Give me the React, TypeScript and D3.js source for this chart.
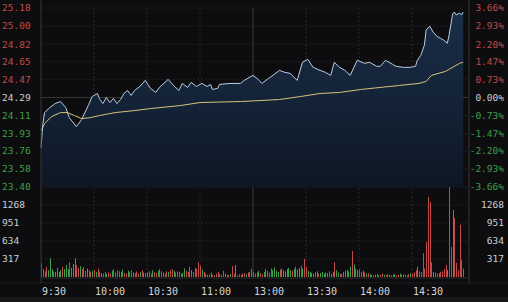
import React from "react";
import * as d3 from "d3";

// ---- data ----
const priceTicks = [25.18, 25.0, 24.82, 24.65, 24.47, 24.29, 24.11, 23.93, 23.76, 23.58, 23.4];
const pctLabels = ["3.66%", "2.93%", "2.20%", "1.47%", "0.73%", "0.00%", "-0.73%", "-1.47%", "-2.20%", "-2.93%", "-3.66%"];
const volTicks = [1268, 951, 634, 317];
const timeLabels = ["9:30", "10:00", "10:30", "11:00", "13:00", "13:30", "14:00", "14:30"];
const preClose = 24.29;

const priceMinutes = [0, 1, 2, 5, 8, 11, 14, 16, 20, 23, 27, 29, 32, 33, 35, 37, 39, 41, 43, 45, 47, 49, 51, 53, 56, 59, 62, 65, 67, 72, 75, 78, 80, 83, 85, 88, 91, 94, 96, 97, 100, 101, 107, 113, 115, 120, 123, 125, 128, 132, 135, 138, 141, 145, 148, 151, 154, 158, 161, 164, 166, 169, 172, 175, 179, 183, 186, 190, 192, 195, 199, 201, 205, 209, 212, 213, 215, 217, 218, 220, 222, 224, 226, 228, 230, 231, 233, 234, 235, 237, 238, 239];
const priceValues = [23.79, 24.02, 24.14, 24.19, 24.23, 24.25, 24.19, 24.09, 24.0, 24.07, 24.22, 24.3, 24.33, 24.28, 24.23, 24.29, 24.24, 24.28, 24.23, 24.27, 24.33, 24.36, 24.31, 24.36, 24.4, 24.46, 24.38, 24.34, 24.39, 24.47, 24.41, 24.36, 24.43, 24.39, 24.44, 24.4, 24.43, 24.4, 24.42, 24.37, 24.38, 24.42, 24.43, 24.43, 24.46, 24.51, 24.47, 24.43, 24.47, 24.52, 24.56, 24.54, 24.53, 24.46, 24.64, 24.67, 24.59, 24.56, 24.54, 24.51, 24.64, 24.59, 24.56, 24.51, 24.66, 24.63, 24.64, 24.6, 24.6, 24.66, 24.62, 24.6, 24.59, 24.59, 24.6, 24.66, 24.71, 24.81, 24.96, 25.0, 24.94, 24.9, 24.88, 24.86, 24.83, 24.91, 25.12, 25.14, 25.11, 25.13, 25.11, 25.14];

const avgMinutes = [0, 2, 6, 11, 15, 19, 23, 28, 33, 42, 53, 62, 79, 90, 113, 135, 147, 158, 169, 181, 192, 203, 214, 218, 221, 229, 234, 237, 239];
const avgValues = [23.96, 24.03, 24.1, 24.14, 24.14, 24.11, 24.08, 24.09, 24.11, 24.14, 24.16, 24.18, 24.21, 24.24, 24.25, 24.27, 24.3, 24.33, 24.34, 24.37, 24.39, 24.41, 24.43, 24.45, 24.51, 24.55, 24.6, 24.63, 24.64];

const volumes = [
  250, 140, 100, 180, 120, 335, 140, 100, 90, 160, 90, 120, 180, 140, 210, 140, 260, 160, 230, 330, 210, 160, 190, 140, 175, 105, 150, 120, 90, 110,
  120, 90, 150, 100, 70, 60, 90, 50, 80, 60, 110, 140, 80, 120, 100, 90, 130, 70, 60, 110, 90, 120, 80, 70, 100, 60, 90, 120, 80, 70,
  80, 100, 60, 120, 90, 70, 110, 140, 100, 80, 60, 100, 90, 120, 140, 110, 80, 100, 90, 60, 70, 150, 110, 90, 180, 120, 90, 160, 140, 260,
  200, 130, 90, 60, 40, 50, 80, 40, 30, 60, 90, 50, 40, 110, 60, 40, 30, 50, 190, 60, 210, 30, 50, 40, 60, 70, 50, 80, 90, 140,
  90, 60, 80, 110, 70, 50, 90, 140, 110, 80, 150, 120, 170, 110, 90, 130, 150, 120, 100, 140, 160, 120, 110, 140, 180, 130, 160, 200, 150, 320,
  180, 110, 90, 70, 60, 80, 100, 60, 70, 90, 60, 80, 70, 100, 60, 90, 260, 120, 80, 60, 50, 90, 110, 130, 100, 180, 460, 220, 150, 120,
  130, 90, 110, 80, 60, 70, 50, 40, 30, 40, 50, 30, 40, 60, 40, 30, 50, 40, 30, 40, 50, 30, 40, 60, 40, 50, 40, 30, 50, 60,
  60, 80, 120, 180, 100, 90, 420, 150, 620, 1410, 1320, 260, 90, 80, 60, 70, 90, 100, 140, 210, 120, 1585, 530, 1180, 1040, 250, 120, 920, 300, 150,
];
const volDirs = (
  "rrgrg ggrgg ggrgg grggg rrgrr rgrrg" +
  "rgrrg rrgrr grgrr ggrrg rrgrr rgrgr" +
  "grrgr rgrrg rrgrr grrgr ggrrr grrrr" +
  "rgrrg rgrgr rgrrg grgrr grrgr rgrrr" +
  "rrggr rgggg rgggg rgggg ggrgg ggrgr" +
  "rgggr ggrgg gggrg grggr gggrg grggg" +
  "rrgrg rgrrg rgrrg rrgrg grrgr rgrrg" +
  "rrrgr rrrrr rrgrr grrrr grrgr rrrrr"
).replace(/ /g, "");

// ---- layout ----
const W = 508, H = 302;
const L = 41, R = 465, RB = 469;
const PT = 8, PB = 187;
const VT = 205, VB = 277;

const x = d3.scaleLinear().domain([0, 240]).range([L, R]);
const yP = d3.scaleLinear().domain([23.4, 25.18]).range([PB, PT]);
const yV = d3.scaleLinear().domain([0, 1268]).range([VB, VT]);

const RED = "#c24a48";
const GREEN = "#3f9f47";
const WHITE = "#cfcfcf";
const FONT = "'DejaVu Sans Mono', monospace";

export default function App() {
  const pricePts = priceMinutes.map((m, i) => [m, priceValues[i]] as [number, number]);
  const avgPts = avgMinutes.map((m, i) => [m, avgValues[i]] as [number, number]);
  const line = d3.line<[number, number]>().x((d) => x(d[0])).y((d) => yP(d[1]));
  const area = d3.area<[number, number]>().x((d) => x(d[0])).y0(PB).y1((d) => yP(d[1]));

  const labelColor = (p: number) => (p > preClose + 1e-9 ? RED : p < preClose - 1e-9 ? GREEN : WHITE);

  return (
    <svg width={W} height={H} style={{ position: "fixed", left: 0, top: 0, display: "block" }} fontFamily={FONT}>
      <defs>
        <linearGradient id="fillG" x1="0" y1="0" x2="0" y2="1">
          <stop offset="0%" stopColor="#1a2e47" />
          <stop offset="55%" stopColor="#132236" />
          <stop offset="100%" stopColor="#0e1724" />
        </linearGradient>
      </defs>
      <rect x={0} y={0} width={W} height={H} fill="#0d0d0f" />
      <rect x={0} y={297} width={W} height={5} fill="#17171a" />

      {/* horizontal grid - price */}
      {priceTicks.map((p, i) => (
        <line key={"hp" + i} x1={L} x2={RB} y1={yP(p)} y2={yP(p)} stroke={p === preClose ? "#363636" : "#222"} strokeDasharray={p === preClose ? undefined : "2,2"} />
      ))}
      {/* horizontal grid - volume */}
      {volTicks.map((v, i) => (
        <line key={"hv" + i} x1={L} x2={RB} y1={yV(v)} y2={yV(v)} stroke="#222" strokeDasharray="2,2" />
      ))}
      <line x1={L} x2={RB} y1={VB + 1} y2={VB + 1} stroke="#2c2c2c" />
      <line x1={0} x2={W} y1={283} y2={283} stroke="#1e1e1e" />

      {/* vertical grid */}
      {timeLabels.map((t, i) =>
        i === 0 ? null : (
          <line key={"vg" + i} x1={x(i * 30)} x2={x(i * 30)} y1={PT} y2={VB} stroke={i === 4 ? "#3c3c3c" : "#282828"} strokeDasharray={i === 4 ? undefined : "2,2"} />
        )
      )}

      {/* area + lines */}
      <path d={area(pricePts) || ""} fill="url(#fillG)" />
      <path d={line(avgPts) || ""} fill="none" stroke="#d6c27a" strokeWidth={1} />
      <path d={line(pricePts) || ""} fill="none" stroke="#b8cde0" strokeWidth={1} />

      {/* volume bars */}
      {volumes.map((v, i) => (
        <rect key={"v" + i} x={Math.round(x(i))} y={yV(v)} width={1} height={VB - yV(v)} fill={volDirs[i] === "g" ? GREEN : RED} />
      ))}

      {/* borders */}
      <line x1={L} x2={L} y1={0} y2={283} stroke="#363636" />
      <line x1={RB} x2={RB} y1={0} y2={283} stroke="#363636" />

      {/* left price labels */}
      {priceTicks.map((p, i) => (
        <text key={"lp" + i} x={2} y={yP(p)} dy="0.35em" fontSize={9.5} fill={labelColor(p)}>
          {p.toFixed(2)}
        </text>
      ))}
      {/* right percent labels */}
      {priceTicks.map((p, i) => (
        <text key={"rp" + i} x={504} y={yP(p)} dy="0.35em" fontSize={9.5} textAnchor="end" fill={labelColor(p)}>
          {pctLabels[i]}
        </text>
      ))}
      {/* volume labels */}
      {volTicks.map((v, i) => (
        <g key={"vl" + i}>
          <text x={2} y={yV(v)} dy="0.35em" fontSize={9.5} fill={WHITE}>{v}</text>
          <text x={504} y={yV(v)} dy="0.35em" fontSize={9.5} textAnchor="end" fill={WHITE}>{v}</text>
        </g>
      ))}
      {/* time labels */}
      {timeLabels.map((t, i) => (
        <text key={"t" + i} x={x(i * 30) + 1} y={291} dy="0.35em" fontSize={10} fill="#d4d4d4">
          {t}
        </text>
      ))}
    </svg>
  );
}
